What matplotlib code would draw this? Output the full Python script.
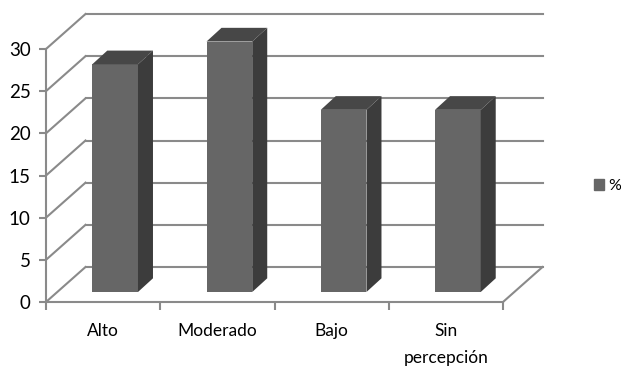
#-*-coding:utf-8-*-
import matplotlib
matplotlib.use('Agg')
import matplotlib.pyplot as plt
from matplotlib.patches import Patch, Polygon

categorias = ['Alto', 'Moderado', 'Bajo', 'Sin\npercepción']
valores = [27, 29.7, 21.6, 21.6]
ticks_y = [0, 5, 10, 15, 20, 25, 30]
serie = '%'

plt.rcParams['font.family'] = ['Lato', 'DejaVu Sans']

W, H = 621, 367
fig = plt.figure(figsize=(W / 100, H / 100), dpi=100)
ax = fig.add_axes([46 / W, (H - 302) / H, 457 / W, 253 / H])
ax.set_xlim(0, len(categorias))
ax.set_ylim(0, 30)

# unidades de datos por pixel, para el falso 3D
ux = 1 / (457 / len(categorias))
uy = 30 / 253
fondo_x, fondo_y = 39.5 * ux, 35 * uy
base_x, base_y = 12 * ux, 10 * uy
prof_x, prof_y = 15 * ux, 13.7 * uy
ancho = 0.4

gris = '#8a8a8a'
frente, lado, tapa = '#666666', '#3c3c3c', '#474747'

# paredes: lineas de fondo y diagonales laterales
n = len(categorias)
for t in ticks_y:
    ax.plot([0, fondo_x], [t, t + fondo_y], color=gris, lw=1.5, clip_on=False, zorder=1)
    ax.plot([fondo_x, n + fondo_x], [t + fondo_y, t + fondo_y], color=gris, lw=1.5, clip_on=False, zorder=1)
ax.plot([n, n + fondo_x], [0, fondo_y], color=gris, lw=1.5, clip_on=False, zorder=1)

for i, v in enumerate(valores):
    x0 = i + 0.5 + base_x - ancho / 2
    x1 = x0 + ancho
    ax.bar(x0, v, width=ancho, bottom=base_y, align='edge', color=frente, clip_on=False, zorder=3)
    tope = base_y + v
    ax.add_patch(Polygon([(x1, base_y), (x1 + prof_x, base_y + prof_y), (x1 + prof_x, tope + prof_y), (x1, tope)],
                         closed=True, color=lado, lw=0, clip_on=False, zorder=3))
    ax.add_patch(Polygon([(x0, tope), (x0 + prof_x, tope + prof_y), (x1 + prof_x, tope + prof_y), (x1, tope)],
                         closed=True, color=tapa, lw=0, clip_on=False, zorder=3))

for s in ['top', 'right']:
    ax.spines[s].set_visible(False)
for s in ['left', 'bottom']:
    ax.spines[s].set_color(gris)
    ax.spines[s].set_linewidth(1.5)

ax.set_yticks(ticks_y)
ax.set_xticks(range(n + 1))
ax.set_xticklabels([])
ax.set_xticks([i + 0.5 for i in range(n)], minor=True)
ax.set_xticklabels(categorias, minor=True, linespacing=1.85)
ax.tick_params(axis='x', which='minor', length=0, pad=15, labelsize=12.5, colors='black')
ax.tick_params(axis='x', which='major', length=6, color=gris, width=1.5)
ax.tick_params(axis='y', length=5, color=gris, width=1.5, labelsize=13.5, pad=6)

fig.legend(handles=[Patch(color=frente, label=serie)], loc='center left', bbox_to_anchor=(579.6 / W, 1 - 186 / H),
           frameon=False, fontsize=11.5, handlelength=0.63, handleheight=0.75, handletextpad=0.25)

plt.savefig('out.png', dpi=100)
